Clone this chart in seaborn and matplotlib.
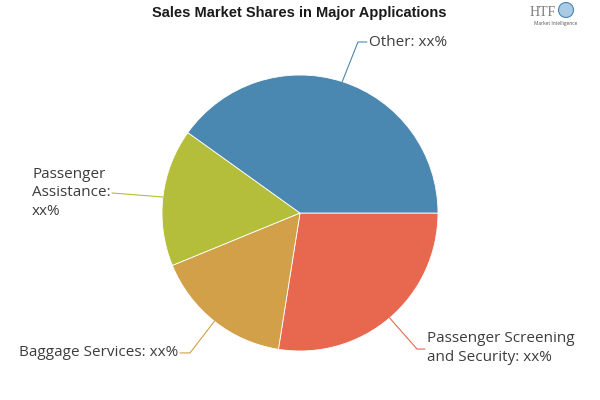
import numpy as np
import seaborn as sns
import matplotlib.pyplot as plt
from matplotlib.patches import Ellipse

# Data (shares in %, clockwise from 3 o'clock)
apps = ['Passenger Screening\nand Security: xx%', 'Baggage Services: xx%',
        'Passenger\nAssistance:\nxx%', 'Other: xx%']
shares = [27.5, 16.3, 16.1, 40.1]
colors = ['#e8674f', '#d1a049', '#b4be3a', '#4b88b1']

# label layout: elbow of the leader line, end of the leader, text anchor, alignment
elbows = [(0.848, -0.986), (-0.797, -1.014), (-1.362, 0.145), (0.420, 1.239)]
line_end = [(0.905, -0.986), (-0.870, -1.014), (-1.362, 0.145), (0.485, 1.239)]
text_pos = [(0.920, -0.980), (-0.884, -1.014), (-1.942, 0.145), (0.500, 1.239)]
aligns = ['left', 'right', 'left', 'left']

sns.set_theme(style='white')
plt.rcParams['font.family'] = ['Open Sans', 'DejaVu Sans']

fig = plt.figure(figsize=(6, 4), dpi=100)
# square axes so the pie sits at (300, 213) px with radius 138 px
ax = fig.add_axes([162 / 600, 49 / 400, 276 / 600, 276 / 400])
wedges, _ = ax.pie(shares, colors=colors, startangle=0, counterclock=False,
                   radius=1, wedgeprops=dict(edgecolor='white', linewidth=0.6))
ax.set_xlim(-1, 1)
ax.set_ylim(-1, 1)
ax.axis('off')

for w, lab, el, le, tp, ha, c in zip(wedges, apps, elbows, line_end, text_pos, aligns, colors):
    mid = np.deg2rad((w.theta1 + w.theta2) / 2)
    x0, y0 = np.cos(mid), np.sin(mid)
    ax.plot([x0, el[0], le[0]], [y0, el[1], le[1]], color=c, lw=0.8,
            clip_on=False)
    ax.text(tp[0], tp[1], lab, ha=ha, va='center', fontsize=11,
            color='#3d3d3d', linespacing=1.35, clip_on=False)

fig.text(0.498, 0.967, 'Sales Market Shares in Major Applications',
         ha='center', va='center', fontsize=10.5, fontweight='heavy',
         family=['Liberation Sans Narrow', 'Liberation Sans', 'DejaVu Sans'],
         color='#1a1a1a')

# logo in the top right corner
fig.text(543 / 600, 1 - 12 / 400, 'HTF', ha='center', va='center', fontsize=10,
         family=['Liberation Serif', 'DejaVu Serif'], color='#7a7a7a')
fig.patches.append(Ellipse((566 / 600, 1 - 10 / 400), 15 / 600, 15 / 400,
                           transform=fig.transFigure, facecolor='#a9cbe3',
                           edgecolor='#4a86b8', lw=0.8))
fig.text(556 / 600, 1 - 24 / 400, 'Market Intelligence', ha='center', va='center',
         fontsize=3.5, color='#555555')

fig.savefig('out.png', dpi=100)
